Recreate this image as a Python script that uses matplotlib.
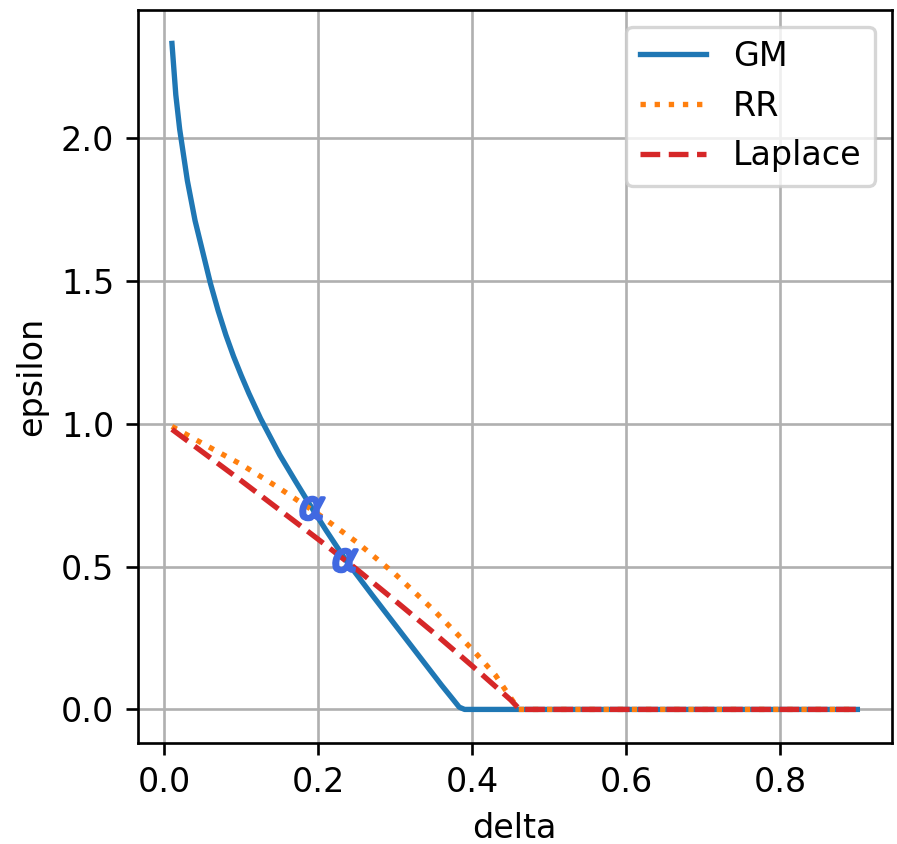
import matplotlib
matplotlib.use("Agg")
import matplotlib.pyplot as plt

gm_delta = [0.01, 0.015, 0.02, 0.03, 0.04, 0.05, 0.06, 0.07, 0.08, 0.09, 0.10, 0.11,
            0.125, 0.15, 0.17, 0.19, 0.21, 0.235, 0.27, 0.30, 0.33, 0.36, 0.375,
            0.383, 0.39, 0.9]
gm_eps = [2.33, 2.15, 2.03, 1.85, 1.71, 1.60, 1.49, 1.395, 1.31, 1.235, 1.168, 1.105,
          1.018, 0.89, 0.80, 0.712, 0.627, 0.525, 0.40, 0.295, 0.19, 0.085, 0.035,
          0.008, 0.0, 0.0]

rr_delta = [0.01, 0.05, 0.10, 0.15, 0.20, 0.25, 0.30, 0.35, 0.40, 0.43, 0.46, 0.9]
rr_eps = [0.99, 0.93, 0.857, 0.773, 0.683, 0.585, 0.473, 0.347, 0.21, 0.12, 0.0, 0.0]

lap_delta = [0.01, 0.10, 0.20, 0.25, 0.30, 0.35, 0.40, 0.45, 0.4615, 0.9]
lap_eps = [0.98, 0.80, 0.595, 0.49, 0.38, 0.268, 0.152, 0.033, 0.0, 0.0]

cross_delta = [0.192, 0.235]
cross_eps = [0.705, 0.523]

DPI = 240
fig = plt.figure(figsize=(897 / DPI, 844 / DPI), dpi=DPI)
ax = fig.add_axes([0.1535, 0.12, 0.8405, 0.868])

ax.plot(gm_delta, gm_eps, color="#1f77b4", lw=1.6, label="GM")
ax.plot(rr_delta, rr_eps, color="#ff7f0e", lw=1.6, linestyle=":", label="RR")
ax.plot(lap_delta, lap_eps, color="#d62728", lw=1.6, linestyle="--", label="Laplace")
ax.plot(cross_delta, cross_eps, linestyle="none", marker="$\\alpha$",
        color="royalblue", markersize=7)

ax.set_xlabel("delta")
ax.set_ylabel("epsilon")
ax.grid(True, color="#b0b0b0")
ax.legend(loc="upper right")

fig.savefig("out.png", dpi=DPI)
